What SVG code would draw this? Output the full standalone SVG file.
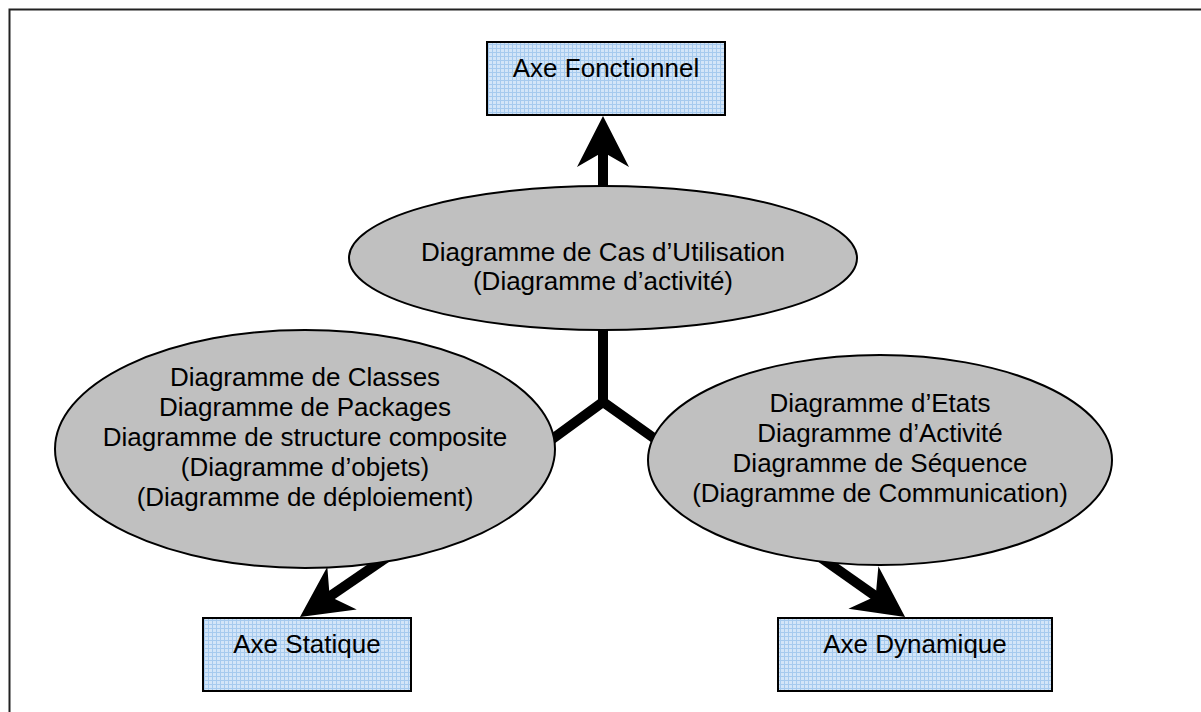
<svg xmlns="http://www.w3.org/2000/svg" width="1201" height="712" viewBox="0 0 1201 712">
  <style>
    .t { font-family: "Liberation Sans", Arial, sans-serif; font-size: 26px; fill: #000; text-anchor: middle; }
    .box { fill: url(#grid); stroke: #000; stroke-width: 2; }
    .ell { fill: #c0c0c0; stroke: #000; stroke-width: 2; }
    .conn { fill: none; stroke: #000; stroke-width: 10; stroke-linejoin: miter; }
    .frame { fill: none; stroke: #222; stroke-width: 2; }
  </style>
  <defs>
    <pattern id="grid" width="4" height="4" patternUnits="userSpaceOnUse">
      <rect width="4" height="4" fill="#d3e5f8"/>
      <path d="M0,0.5 H4 M0.5,0 V4" stroke="#a6caee" stroke-width="1" fill="none"/>
    </pattern>
    <marker id="head" markerUnits="userSpaceOnUse" viewBox="0 0 52 52" markerWidth="52" markerHeight="52" refX="17" refY="26" orient="auto" overflow="visible">
      <path d="M51,26 L0,0 L15,26 L0,52 Z" fill="#000"/>
    </marker>
  </defs>

  <path class="frame" d="M9.5,712 V9.5 H1201"/>

  <g id="connectors">
    <path class="conn" d="M603,300 V402"/>
    <path class="conn" d="M540,448 L603,402 L665,446"/>
    <path class="conn" d="M603,250 V150" marker-end="url(#head)"/>
    <path class="conn" d="M390.8,554.6 L328,597.7" marker-end="url(#head)"/>
    <path class="conn" d="M815,553.5 L877.3,597.4" marker-end="url(#head)"/>
  </g>

  <g id="axe-fonctionnel">
    <rect class="box" x="487" y="42" width="238" height="73"/>
    <text class="t" x="606" y="77">Axe Fonctionnel</text>
  </g>

  <g id="cas-utilisation">
    <ellipse class="ell" cx="603" cy="258" rx="254" ry="72"/>
    <text class="t" x="603" y="261">Diagramme de Cas d’Utilisation</text>
    <text class="t" x="603" y="290">(Diagramme d’activité)</text>
  </g>

  <g id="statique">
    <ellipse class="ell" cx="305" cy="449" rx="250" ry="119"/>
    <text class="t" x="305" y="386">Diagramme de Classes</text>
    <text class="t" x="305" y="416">Diagramme de Packages</text>
    <text class="t" x="305" y="446">Diagramme de structure composite</text>
    <text class="t" x="305" y="476">(Diagramme d’objets)</text>
    <text class="t" x="305" y="506">(Diagramme de déploiement)</text>
  </g>

  <g id="dynamique">
    <ellipse class="ell" cx="880" cy="460" rx="232" ry="105"/>
    <text class="t" x="880" y="412">Diagramme d’Etats</text>
    <text class="t" x="880" y="442">Diagramme d’Activité</text>
    <text class="t" x="880" y="472">Diagramme de Séquence</text>
    <text class="t" x="880" y="502">(Diagramme de Communication)</text>
  </g>

  <g id="axe-statique">
    <rect class="box" x="203" y="618" width="208" height="73"/>
    <text class="t" x="307" y="653">Axe Statique</text>
  </g>

  <g id="axe-dynamique">
    <rect class="box" x="778" y="618" width="274" height="73"/>
    <text class="t" x="915" y="653">Axe Dynamique</text>
  </g>
</svg>
